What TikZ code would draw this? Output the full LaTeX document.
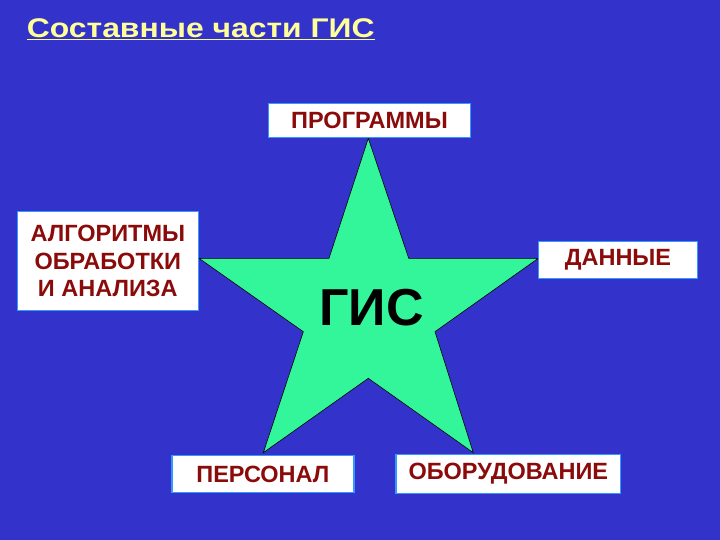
\documentclass[tikz,border=0pt]{standalone}
\usepackage{fontspec}
\setmainfont{Liberation Sans}
\definecolor{bg}{HTML}{3333CC}
\definecolor{starfill}{HTML}{33F59A}
\definecolor{boxtext}{HTML}{8B0A0A}
\definecolor{boxborder}{HTML}{3399FF}
\definecolor{titlecol}{HTML}{FFFF99}
\begin{document}
\begin{tikzpicture}[x=1pt,y=-1pt,
  box/.style={draw=boxborder, line width=1.5pt, fill=white, text=boxtext,
    font=\fontsize{23.5}{27.5}\selectfont\bfseries, align=center, inner sep=0pt}]
\fill[bg] (0,0) rectangle (720,540);
\useasboundingbox (0,0) rectangle (720,540);
\node[anchor=base west, text=titlecol, font=\fontsize{27}{30}\selectfont\bfseries, inner sep=0pt] (title) at (26.7,37.3) {\scalebox{1.18}[1]{\underline{Составные части ГИС}}};
\draw[fill=starfill, draw=black, line width=0.6pt]
  (368.3,138.3) -- (408.7,258.3) -- (538.3,258.3) -- (435,331.7) -- (473.3,452.7)
  -- (368.3,378.3) -- (263.3,452.7) -- (303.3,331.7) -- (199,258.3) -- (329,258.3) -- cycle;
\node[font=\fontsize{52}{60}\selectfont\bfseries, text=black] (gis) at (371.7,307.5) {ГИС};
\node[box, minimum width=202.4pt, minimum height=34pt] (prog) at (369.5,120.3) {ПРОГРАММЫ};
\node[box, minimum width=181pt, minimum height=99pt] (alg) at (107.8,261.2) {АЛГОРИТМЫ\\ОБРАБОТКИ\\И АНАЛИЗА};
\node[box, minimum width=159.4pt, minimum height=36.6pt] (data) at (618,260) {ДАННЫЕ};
\node[box, minimum width=182.3pt, minimum height=36.6pt] (pers) at (262.9,474) {ПЕРСОНАЛ};
\node[box, minimum width=224.7pt, minimum height=39pt] (hw) at (508.3,473.8) {ОБОРУДОВАНИЕ};
\end{tikzpicture}
\end{document}
